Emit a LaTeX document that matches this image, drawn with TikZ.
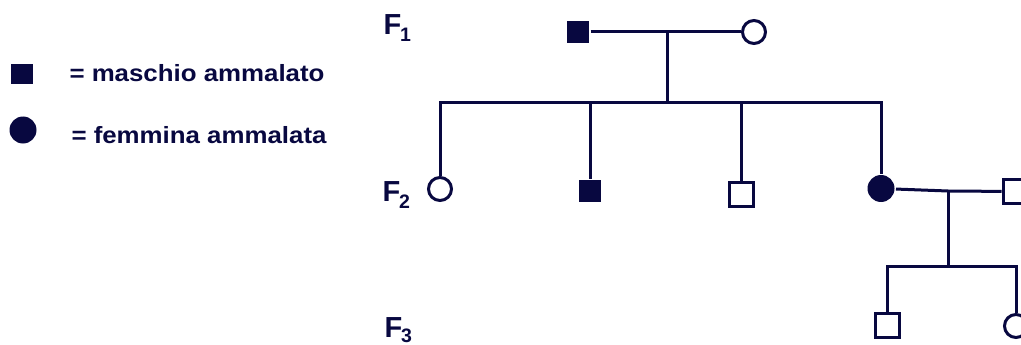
\documentclass[tikz,border=0pt]{standalone}
\usepackage{fontspec}
\setmainfont{Liberation Sans}
\definecolor{ink}{RGB}{8,8,64}
\newcommand\sbx[2][7pt]{\kern-1pt\raisebox{-#1}{\fontsize{19.5}{19.5}\selectfont #2}}
\newcommand\wide[1]{\scalebox{1.1}[1]{#1}}
\begin{document}
\begin{tikzpicture}[x=1pt,y=-1pt, line width=3pt, color=ink, line join=miter,
  msq/.style={rectangle, fill=ink, minimum size=22pt, inner sep=0pt},
  osq/.style={rectangle, draw=ink, fill=white, minimum size=24pt, inner sep=0pt},
  fci/.style={circle, fill=ink, minimum size=27pt, inner sep=0pt},
  oci/.style={circle, draw=ink, fill=white, minimum size=23pt, inner sep=0pt},
  lab/.style={font=\bfseries\fontsize{29}{29}\selectfont, inner sep=0pt, anchor=base west},
  leg/.style={font=\bfseries\fontsize{23.5}{23.5}\selectfont, inner sep=0pt, anchor=base west}]
\useasboundingbox[fill=white] (0,0) rectangle (1021,345);
% generation 1
\node[msq] (a) at (578,32) {};
\node[oci] (b) at (754,32) {};
\coordinate (m1) at (667,32);
\coordinate (j1) at (667,103);
% generation 2
\node[oci] (c1) at (440,189) {};
\node[msq] (c2) at (590,191) {};
\node[osq] (c3) at (741,194.5) {};
\node[fci] (c4) at (881,188.5) {};
\node[osq] (s) at (1015,191.5) {};
\coordinate (m2) at (948,191);
\coordinate (j2) at (948,266);
% generation 3
\node[osq] (g1) at (887.5,325) {};
\node[oci] (g2) at (1016,326) {};
% connectors
\draw (a) -- (b);
\draw (m1) -- (j1);
\draw (c1.north) -- (c1.north |- j1) -- (c4.north |- j1) -- (c4.north);
\draw (c2.north |- j1) -- (c2.north);
\draw (c3.north |- j1) -- (c3.north);
\draw (c4) -- (m2) -- (s);
\draw (m2) -- (j2);
\draw (g1.north) -- (g1.north |- j2) -- (g2.north |- j2) -- (g2.north);
% legend
\node[msq, minimum width=22pt, minimum height=20pt] (lm) at (22,74) {};
\node[fci] (lf) at (23,130) {};
\node[leg] (tm) at (68,81.5) {\wide{= maschio ammalato}};
\node[leg] (tf) at (70,143) {\wide{= femmina ammalata}};
% generation labels
\node[lab] (f1) at (382,34.5) {F\sbx{1}};
\node[lab] (f2) at (381,201) {F\sbx{2}};
\node[lab] (f3) at (383,337) {F\sbx[5pt]{3}};
\end{tikzpicture}
\end{document}
